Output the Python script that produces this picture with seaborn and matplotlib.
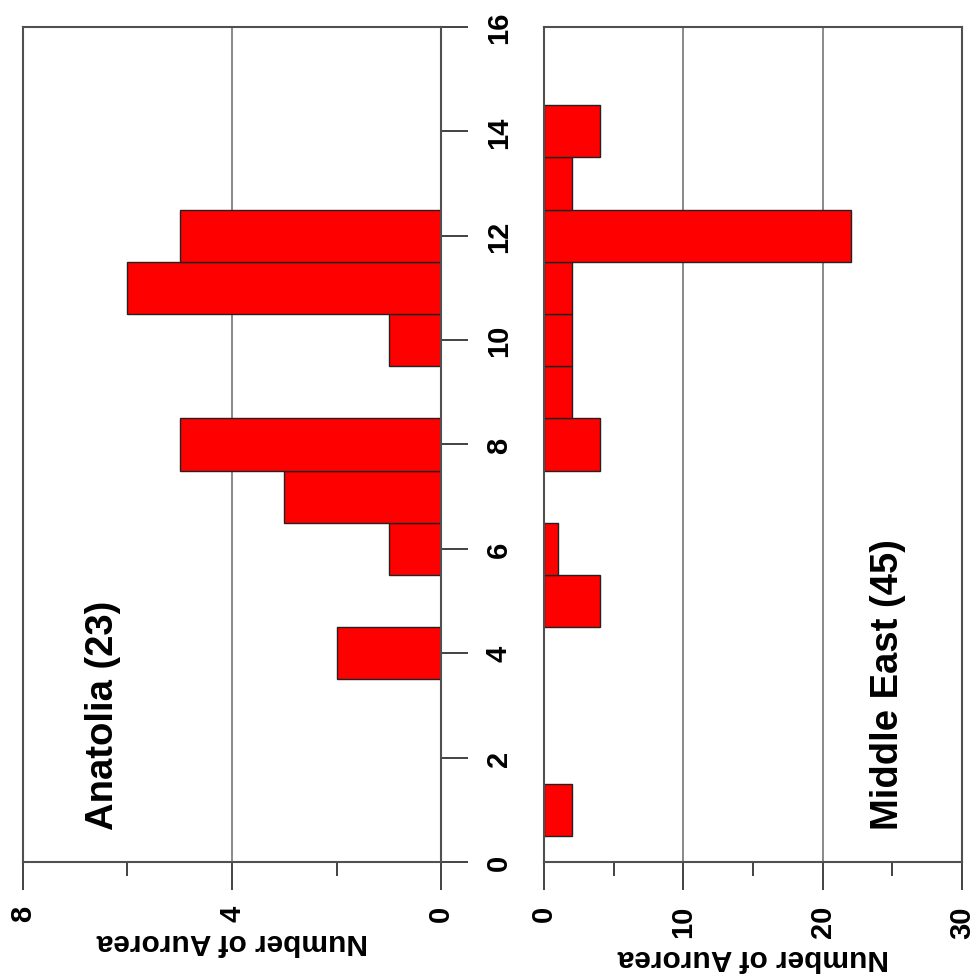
import matplotlib
matplotlib.use('Agg')
import matplotlib.pyplot as plt
from matplotlib.ticker import MultipleLocator
import seaborn as sns

sns.set_style('white')
plt.rcParams['font.family'] = ['Liberation Sans', 'DejaVu Sans']
plt.rcParams['font.weight'] = 'bold'
plt.rcParams['text.color'] = 'black'
plt.rcParams['xtick.labelcolor'] = 'black'
plt.rcParams['ytick.labelcolor'] = 'black'

# century (bin centre) and number of aurorae
anatolia_cent = [4, 6, 7, 8, 10, 11, 12]
anatolia_n = [2, 1, 3, 5, 1, 6, 5]
mideast_cent = [1, 5, 6, 8, 9, 10, 11, 12, 13, 14]
mideast_n = [2, 4, 1, 4, 2, 2, 2, 22, 2, 4]
panel_names = ['Anatolia (23)', 'Middle East (45)']
xlab = 'Number of Aurorea'

fig = plt.figure(figsize=(9.74, 9.78), dpi=100)
ax1 = fig.add_axes([0.0236, 0.1176, 0.4292, 0.8538])
ax2 = fig.add_axes([0.5585, 0.1176, 0.4292, 0.8538])

bar_kw = dict(orient='y', native_scale=True, width=1, color='#ff0000',
              saturation=1, edgecolor='#222222', linewidth=1, errorbar=None)
sns.barplot(x=anatolia_n, y=anatolia_cent, ax=ax1, **bar_kw)
sns.barplot(x=mideast_n, y=mideast_cent, ax=ax2, **bar_kw)

ax1.set_xlim(8, 0)
ax1.xaxis.set_major_locator(MultipleLocator(4))
ax1.xaxis.set_minor_locator(MultipleLocator(2))
ax2.set_xlim(0, 30)
ax2.xaxis.set_major_locator(MultipleLocator(10))
ax2.xaxis.set_minor_locator(MultipleLocator(5))

for ax in (ax1, ax2):
    ax.set_ylim(0, 16)
    ax.set_axisbelow(True)
    ax.grid(axis='x', which='major', color='#808080', lw=1.3)
    ax.grid(axis='y', visible=False)
    for s in ax.spines.values():
        s.set_visible(True)
        s.set_color('#505050')
        s.set_linewidth(1.5)
    ax.tick_params(axis='x', which='major', bottom=True, length=20, width=1.2,
                   color='#222222', labelsize=21, pad=11, labelrotation=90,
                   direction='out', labelcolor='black')
    ax.tick_params(axis='x', which='minor', bottom=True, length=10, width=1.2,
                   color='#222222', direction='out')
    ax.set_xlabel(xlab, fontsize=21.5, fontweight='bold', rotation=180,
                  labelpad=4, color='black')
    ax.set_ylabel('')

# shared century axis sits between the two panels
ax1.set_yticks(range(0, 17, 2))
ax1.tick_params(axis='y', left=False, labelleft=False, right=True, labelright=True,
                length=19.4, width=1.2, color='#222222', labelsize=21, pad=12,
                labelrotation=90, direction='out', labelcolor='black')
for t in ax1.get_yticklabels():
    t.set_va('center')
ax2.tick_params(axis='y', left=False, labelleft=False, right=False, labelright=False)

ax1.text(0.191, 0.0395, panel_names[0], transform=ax1.transAxes, rotation=90,
         ha='center', va='bottom', fontsize=27.5, fontweight='bold', color='black')
ax2.text(0.823, 0.0395, panel_names[1], transform=ax2.transAxes, rotation=90,
         ha='center', va='bottom', fontsize=27.5, fontweight='bold', color='black')

plt.savefig('out.png', dpi=100)
